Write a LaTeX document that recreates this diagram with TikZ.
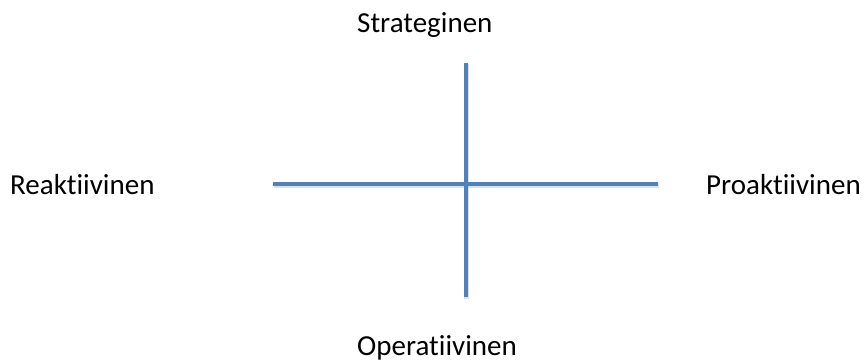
\documentclass[tikz,border=0pt]{standalone}
\usepackage{fontspec}
\setmainfont{Carlito}[Ligatures={NoCommon}]
\usepackage{tikz}
\usetikzlibrary{positioning,calc}
\definecolor{axisblue}{HTML}{4F81BD}

\begin{document}
\begin{tikzpicture}[x=1pt,y=-1pt,
    axis/.style={
        draw=axisblue,
        line width=4pt
      },
    axisshadow/.style={
        draw=black!25,
        line width=4.5pt,
        opacity=0.5
      },
    lbl/.style={
        inner sep=0pt,
        anchor=base west,
        font=\fontsize{29}{34}\selectfont
      }
    ]
    \useasboundingbox (0,0) rectangle (864,363);
    \coordinate (top) at (465.5,63);
    \coordinate (bottom) at (465.5,297);
    \coordinate (left) at (272.5,184);
    \coordinate (right) at (658,184);
    \draw[axisshadow] ($(top)+(1,1.5)$) -- ($(bottom)+(1,1.5)$);
    \draw[axisshadow] ($(left)+(1,1.5)$) -- ($(right)+(1,1.5)$);
    \draw[axis] (left) -- (right);
    \draw[axis] (top) -- (bottom);
    \node[lbl] (strat) at (357,33) {Strateginen};
    \node[lbl] (oper) at (357,355) {Operatiivinen};
    \node[lbl] (reak) at (10,195) {Reaktiivinen};
    \node[lbl] (proak) at (706,195) {Proaktiivinen};
  \end{tikzpicture}
\end{document}
